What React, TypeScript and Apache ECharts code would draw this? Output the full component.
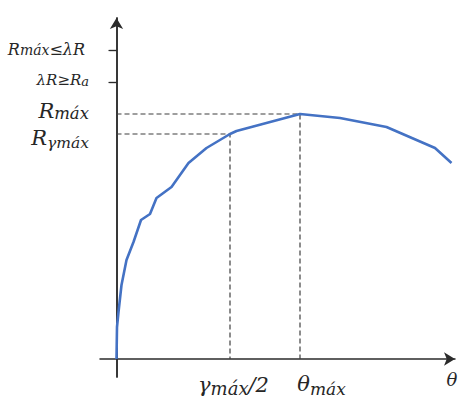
import React, { useEffect, useRef } from 'react';
import * as echarts from 'echarts';

// ---- data (abstract units: θ along x, R along y) ----
const curveTheta = [0, 0.5, 2, 5, 10, 17, 24.5, 33.5, 40, 55, 72, 90, 113.5, 120, 183.5, 223.5, 270, 318.5, 335];
const curveR = [0, 32, 47, 74, 99, 117, 139, 145, 161, 172, 196, 211, 225, 228, 245, 241, 232, 211, 196];

const gammaHalf = 113.5;
const thetaMax = 183.5;
const thetaEnd = 335.5;
const rGammaMax = 225;
const rMax = 245;
const lambdaLevel = 277;
const rLimitLevel = 309;

const xMin = -16.5;
const xMax = 338.5;
const yMin = -18;
const yMax = 341;

// tick labels: [text, isSubscript]
const yLabelValues = [rLimitLevel, lambdaLevel, rMax, rGammaMax];
const yLabelTokens: [string, boolean][][] = [
  [['R', false], ['máx', true], ['≤λR', false]],
  [['λR≥R', false], ['a', true]],
  [['R', false], ['máx', true]],
  [['R', false], ['γmáx', true]],
];
const yTickValues = [rLimitLevel, lambdaLevel];

const xLabelValues = [gammaHalf, thetaMax, thetaEnd];
const xLabelTokens: [string, boolean][][] = [
  [['γ', false], ['máx', true], ['/2', false]],
  [['θ', false], ['máx', true]],
  [['θ', false]],
];

// ---- label styling (positions / sizes kept apart from the data) ----
type LStyle = { main: number; sub: number; shift: number; drop: number; padL: number; padR: number };
const yStyles: LStyle[] = [
  { main: 16, sub: 14, shift: -1, drop: 1, padL: 0, padR: 4 },
  { main: 15, sub: 13, shift: -5, drop: 4, padL: 0, padR: 0 },
  { main: 21, sub: 16.5, shift: -5.5, drop: 2, padL: 0, padR: 0 },
  { main: 21, sub: 15.5, shift: 7.5, drop: 8, padL: 0, padR: 0 },
];
const xStyles: LStyle[] = [
  { main: 21, sub: 18, shift: -1, drop: 3, padL: 7, padR: 0 },
  { main: 21, sub: 17, shift: -1.5, drop: 3.5, padL: 43, padR: 0 },
  { main: 18, sub: 18, shift: -5, drop: 0, padL: 0, padR: 0 },
];

const FONT = '"DejaVu Serif", serif';
const TEXT_COLOR = '#262626';
const AXIS_COLOR = '#2b2b2b';

// base: symmetric padding added to every token so line heights stay predictable
function buildRich(prefix: string, tokens: [string, boolean][][], styles: LStyle[], base: number) {
  const rich: Record<string, any> = {};
  tokens.forEach((toks, i) => {
    const st = styles[i];
    toks.forEach(([, isSub], j) => {
      const d = isSub ? st.drop + 0.346 * (st.main - st.sub) : 0;
      const s = st.shift + d;
      const pt = Math.max(0, base + s);
      const pb = Math.max(0, base - s);
      rich[`${prefix}${i}_${j}`] = {
        fontFamily: FONT,
        fontStyle: 'italic',
        fontSize: isSub ? st.sub : st.main,
        color: TEXT_COLOR,
        padding: [pt, j === toks.length - 1 ? st.padR : 0, pb, j === 0 ? st.padL : 0],
      };
    });
  });
  return rich;
}

function makeFormatter(prefix: string, values: number[], tokens: [string, boolean][][]) {
  return (v: number) => {
    const i = values.findIndex((x) => Math.abs(x - v) < 1e-6);
    if (i < 0) return '';
    return tokens[i].map(([t], j) => `{${prefix}${i}_${j}|${t}}`).join('');
  };
}

export default function App() {
  const ref = useRef<HTMLDivElement>(null);

  useEffect(() => {
    if (!ref.current) return;
    const chart = echarts.init(ref.current, undefined, { renderer: 'svg' });

    const curve = curveTheta.map((t, i) => [t, curveR[i]]);
    const guideGamma = [
      [0, rGammaMax],
      [gammaHalf, rGammaMax],
      [gammaHalf, 0],
    ];
    const guideMax = [
      [0, rMax],
      [thetaMax, rMax],
      [thetaMax, 0],
    ];

    const dashed = { color: '#3f3f3f', width: 1.2, type: [5, 3] as any };

    chart.setOption({
      animation: false,
      backgroundColor: '#ffffff',
      grid: { left: 100, right: 7, top: 18, bottom: 22, containLabel: false, outerBoundsMode: 'none' },
      xAxis: {
        type: 'value',
        min: xMin,
        max: xMax,
        splitLine: { show: false },
        axisLine: {
          show: true,
          onZero: true,
          symbol: ['none', 'arrow'],
          symbolSize: [10, 11],
          lineStyle: { color: AXIS_COLOR, width: 1.5 },
        },
        axisTick: { show: false },
        axisLabel: {
          customValues: xLabelValues,
          margin: -8,
          formatter: makeFormatter('x', xLabelValues, xLabelTokens),
          rich: buildRich('x', xLabelTokens, xStyles, 6),
        },
      },
      yAxis: [
        {
          type: 'value',
          min: yMin,
          max: yMax,
          splitLine: { show: false },
          axisLine: {
            show: true,
            onZero: true,
            onZeroAxisIndex: 0,
            symbol: ['none', 'arrow'],
            symbolSize: [10, 11],
            lineStyle: { color: AXIS_COLOR, width: 1.5 },
          },
          axisTick: {
            show: true,
            customValues: yTickValues,
            length: 7,
            lineStyle: { color: AXIS_COLOR, width: 1.2 },
          },
          axisLabel: {
            customValues: yLabelValues,
            margin: 11,
            formatter: makeFormatter('y', yLabelValues, yLabelTokens),
            rich: buildRich('y', yLabelTokens, yStyles, 0),
          },
        },
        {
          type: 'value',
          min: yMin,
          max: yMax,
          splitLine: { show: false },
          axisLine: {
            show: true,
            onZero: true,
            onZeroAxisIndex: 0,
            lineStyle: { color: AXIS_COLOR, width: 1.5 },
          },
          axisTick: {
            show: true,
            inside: true,
            customValues: yTickValues,
            length: 8,
            lineStyle: { color: AXIS_COLOR, width: 1.2 },
          },
          axisLabel: { show: false },
        },
      ],
      series: [
        {
          type: 'line',
          data: guideGamma,
          symbol: 'none',
          lineStyle: dashed,
          silent: true,
          z: 1,
        },
        {
          type: 'line',
          data: guideMax,
          symbol: 'none',
          lineStyle: dashed,
          silent: true,
          z: 1,
        },
        {
          type: 'line',
          data: curve,
          symbol: 'none',
          lineStyle: { color: '#4472C4', width: 2.6, join: 'round' },
          silent: true,
          z: 3,
        },
      ],
    });

    return () => chart.dispose();
  }, []);

  return (
    <div
      ref={ref}
      style={{ position: 'absolute', left: 0, top: 0, width: 462, height: 399, background: '#fff' }}
    />
  );
}
